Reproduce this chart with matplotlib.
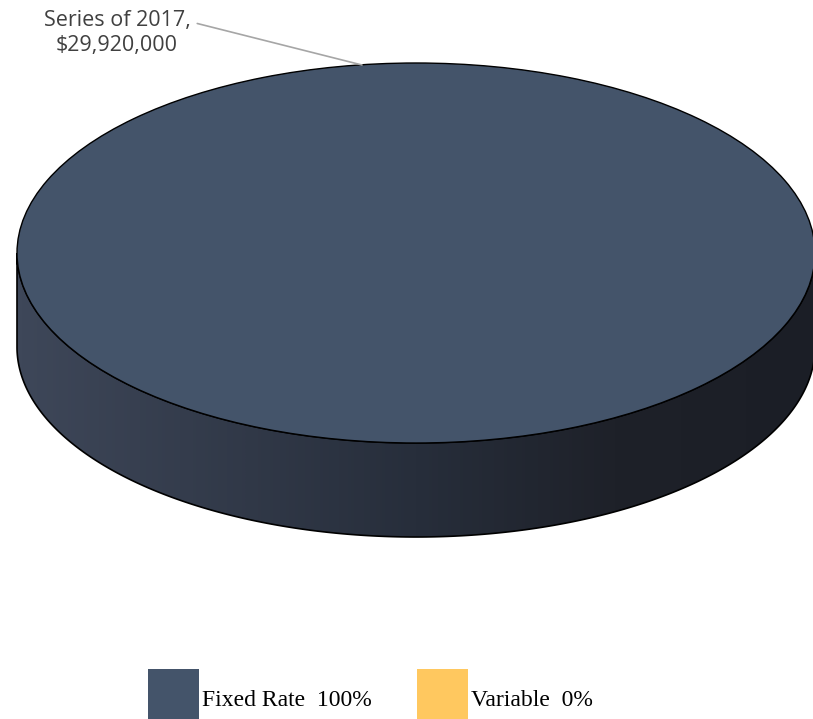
import numpy as np
import matplotlib.pyplot as plt
from matplotlib.patches import Wedge, Polygon, Rectangle
from matplotlib.transforms import Affine2D
from matplotlib.colors import LinearSegmentedColormap

categories = ["Fixed Rate", "Variable"]
amounts = [29920000, 0]
colors = ["#44546A", "#FFC85F"]
series_name = "Series of 2017"

values = np.array(amounts, dtype=float)
shares = values / values.sum()

fig = plt.figure(figsize=(8.13, 7.19), dpi=100)
ax = fig.add_axes([0, 0, 1, 1])
ax.set_xlim(0, 813)
ax.set_ylim(719, 0)
ax.axis("off")

# disk geometry in pixel space
cx, cy, rx, ry, depth = 416, 253, 399, 190, 94
disk = Affine2D().scale(rx, ry).translate(cx, cy) + ax.transData

# side wall: visible front half between top rim and bottom rim
t = np.linspace(0, np.pi, 300)
top_rim = np.column_stack([cx + rx * np.cos(t), cy + ry * np.sin(t)])
bot_rim = top_rim + [0, depth]
side = Polygon(np.vstack([top_rim, bot_rim[::-1]]), closed=True,
               facecolor="none", edgecolor="black", lw=1.2, zorder=2)
ax.add_patch(side)
shade = LinearSegmentedColormap.from_list(
    "side", [(0.0, "#3E4759"), (0.5, "#272E3B"), (0.75, "#1E2129"),
             (1.0, "#1B1E26")])
grad = np.linspace(0, 1, 256).reshape(1, -1)
img = ax.imshow(grad, cmap=shade, aspect="auto",
                extent=(cx - rx, cx + rx, cy + ry + depth, cy),
                zorder=1, interpolation="bilinear")
img.set_clip_path(side)

# top face, one wedge per category from its share
start = 90.0
for share, col in zip(shares, colors):
    if share <= 0:
        continue
    sweep = 360.0 * share
    w = Wedge((0, 0), 1.0, start - sweep, start, facecolor=col,
              edgecolor="black", lw=1.0, transform=disk, zorder=3)
    ax.add_patch(w)
    start -= sweep

# data label with leader line
ax.annotate(f"{series_name},\n${amounts[0]:,.0f}",
            xy=(362, 65), xytext=(117, 33),
            ha="center", va="center", fontsize=15.5, color="#404040",
            family="Open Sans", linespacing=1.3,
            arrowprops=dict(arrowstyle="-", color="#A6A6A6", lw=1.2,
                            shrinkA=3, shrinkB=0,
                            relpos=(1.0, 0.74)))

# legend along the bottom
legend_x = [148, 417]
for x0, name, share, col in zip(legend_x, categories, shares, colors):
    ax.add_patch(Rectangle((x0, 669), 51, 51, facecolor=col,
                           edgecolor="none", clip_on=False))
    ax.text(x0 + 54, 701, f"{name}  {share:.0%}", fontsize=17,
            family="Liberation Serif", va="center", ha="left",
            color="black")

fig.savefig("out.png", dpi=100, facecolor="white")
